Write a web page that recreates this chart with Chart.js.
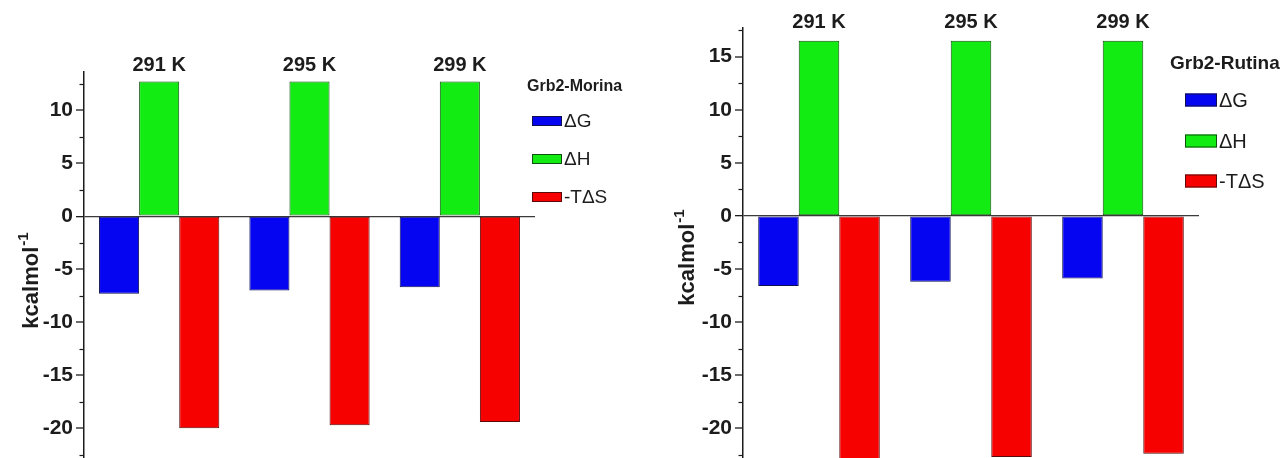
<!DOCTYPE html>
<html>
<head>
<meta charset="utf-8">
<title>Grb2 binding thermodynamics</title>
<script src="https://cdn.jsdelivr.net/npm/chart.js@4.4.1/dist/chart.umd.min.js"></script>
<style>
  html, body { margin: 0; padding: 0; background: #fff; overflow: hidden; }
  #wrap { position: relative; width: 1284px; height: 458px; overflow: hidden; }
  canvas { position: absolute; top: 0; }
  #morina { left: 0; }
  #rutina { left: 640px; }
</style>
</head>
<body>
<div id="wrap">
  <canvas id="morina" width="640" height="500"></canvas>
  <canvas id="rutina" width="644" height="500"></canvas>
</div>
<script>
// Temperatures (one group of bars per temperature)
const temperatures = ['291 K', '295 K', '299 K'];
const seriesNames = ['\u0394G', '\u0394H', '-T\u0394S'];

// Grb2-Morina, kcal/mol
const morinaDG  = [-7.3, -7.0, -6.7];
const morinaDH  = [12.7, 12.7, 12.7];
const morinaTDS = [-20.0, -19.7, -19.4];

// Grb2-Rutina, kcal/mol
const rutinaDG  = [-6.6, -6.2, -5.9];
const rutinaDH  = [16.5, 16.5, 16.5];
const rutinaTDS = [-23.1, -22.7, -22.4];

// Labelled y ticks
const morinaTicks = [-20, -15, -10, -5, 0, 5, 10];
const rutinaTicks = [-20, -15, -10, -5, 0, 5, 10, 15];

const FONT = '"Liberation Sans", Arial, Helvetica, sans-serif';
const INK = '#1c1c1c';
const fills   = ['#0505f2', '#12ec12', '#f60000'];
const borders = ['#101050', '#0f4f0f', '#5a0a0a'];

// Minor ticks, temperature labels, legend box and axis title
const decorPlugin = {
  id: 'decor',
  afterDraw(chart, args, opts) {
    const ctx = chart.ctx;
    const y = chart.scales.y;
    const x = chart.scales.x;
    const left = chart.chartArea.left;
    ctx.save();

    // minor ticks every 2.5
    ctx.strokeStyle = INK;
    ctx.lineWidth = 1.2;
    for (let v = Math.ceil(y.min / 2.5) * 2.5; v <= y.max; v += 2.5) {
      if (Math.abs(v % 5) < 1e-6) continue;
      const py = Math.round(y.getPixelForValue(v)) + 0.5;
      ctx.beginPath();
      ctx.moveTo(left - 4.5, py);
      ctx.lineTo(left, py);
      ctx.stroke();
    }

    // temperature labels above the ΔH bars
    const dh = chart.data.datasets[1].data;
    ctx.fillStyle = INK;
    ctx.font = 'bold ' + opts.labelSize + 'px ' + FONT;
    ctx.textAlign = 'center';
    ctx.textBaseline = 'bottom';
    chart.data.labels.forEach((lab, i) => {
      ctx.fillText(lab, x.getPixelForValue(i), y.getPixelForValue(dh[i]) - opts.labelGap);
    });

    // legend
    const lg = opts.legend;
    ctx.textAlign = 'left';
    ctx.textBaseline = 'middle';
    ctx.font = 'bold ' + lg.titleSize + 'px ' + FONT;
    ctx.fillText(lg.title, lg.titleX, lg.titleY);
    ctx.font = lg.itemSize + 'px ' + FONT;
    chart.data.datasets.forEach((ds, i) => {
      const cy = lg.itemY[i];
      ctx.fillStyle = ds.backgroundColor;
      ctx.fillRect(lg.boxX, cy - lg.boxH / 2, lg.boxW, lg.boxH);
      ctx.strokeStyle = ds.borderColor;
      ctx.lineWidth = 1;
      ctx.strokeRect(lg.boxX + 0.5, cy - lg.boxH / 2 + 0.5, lg.boxW - 1, lg.boxH - 1);
      ctx.fillStyle = INK;
      ctx.fillText(ds.label, lg.boxX + lg.boxW + 2, cy + 1);
    });

    // y axis title with superscript
    const t = opts.yTitle;
    ctx.translate(t.x, t.y);
    ctx.rotate(-Math.PI / 2);
    ctx.textBaseline = 'alphabetic';
    ctx.font = 'bold ' + t.size + 'px ' + FONT;
    const w1 = ctx.measureText('kcalmol').width;
    ctx.font = 'bold ' + t.supSize + 'px ' + FONT;
    const w2 = ctx.measureText('-1').width;
    const start = -(w1 + w2) / 2;
    ctx.font = 'bold ' + t.size + 'px ' + FONT;
    ctx.fillText('kcalmol', start, 0);
    ctx.font = 'bold ' + t.supSize + 'px ' + FONT;
    ctx.fillText('-1', start + w1 + 1, -t.size * 0.45);
    ctx.restore();
  }
};

function makeChart(id, dg, dh, tds, ticks, yMin, yMax, axisWidth, pad, deco) {
  const data = [dg, dh, tds];
  return new Chart(document.getElementById(id), {
    type: 'bar',
    data: {
      labels: temperatures,
      datasets: seriesNames.map((name, i) => ({
        label: name,
        data: data[i],
        backgroundColor: fills[i],
        borderColor: borders[i],
        borderWidth: 1,
        borderSkipped: false,
        categoryPercentage: 0.8,
        barPercentage: 1.0
      }))
    },
    options: {
      responsive: false,
      animation: false,
      devicePixelRatio: 1,
      layout: { padding: pad },
      plugins: {
        legend: { display: false },
        tooltip: { enabled: false },
        decor: deco
      },
      scales: {
        x: { display: false, offset: true, grid: { display: false } },
        y: {
          min: yMin,
          max: yMax,
          afterFit(scale) { scale.width = axisWidth; },
          afterBuildTicks(scale) { scale.ticks = ticks.map(v => ({ value: v })); },
          border: { display: true, color: INK, width: 1.5 },
          grid: {
            drawOnChartArea: true,
            color: c => (c.tick && c.tick.value === 0 ? '#3a3a3a' : 'rgba(0,0,0,0)'),
            lineWidth: c => (c.tick && c.tick.value === 0 ? 1.3 : 0),
            tickColor: INK,
            tickWidth: 1.3,
            tickLength: 8
          },
          ticks: {
            color: INK,
            padding: 3,
            font: { family: FONT, size: 21, weight: 'bold' },
            callback: v => String(v)
          }
        }
      }
    },
    plugins: [decorPlugin]
  });
}

makeChart('morina', morinaDG, morinaDH, morinaTDS, morinaTicks, -22.8, 13.6, 84,
  { left: 0, right: 105, top: 72, bottom: 42 },
  {
    labelSize: 20, labelGap: 6,
    legend: {
      title: 'Grb2-Morina', titleX: 527, titleY: 87, titleSize: 16,
      boxX: 532, boxW: 30, boxH: 10, itemY: [121, 159, 197], itemSize: 19
    },
    yTitle: { x: 38, y: 281, size: 22, supSize: 15 }
  });

makeChart('rutina', rutinaDG, rutinaDH, rutinaTDS, rutinaTicks, -22.8, 17.7, 103,
  { left: 0, right: 85, top: 28, bottom: 42 },
  {
    labelSize: 20, labelGap: 8,
    legend: {
      title: 'Grb2-Rutina', titleX: 530, titleY: 64, titleSize: 19,
      boxX: 545, boxW: 32, boxH: 13, itemY: [100, 141, 181], itemSize: 20
    },
    yTitle: { x: 54, y: 258, size: 22, supSize: 15 }
  });
</script>
</body>
</html>
